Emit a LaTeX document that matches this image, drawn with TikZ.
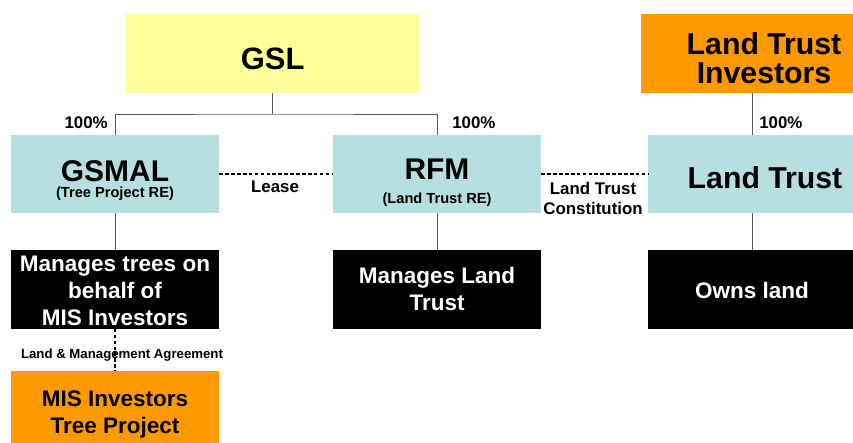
\documentclass[tikz,border=0pt]{standalone}
\usepackage{fontspec}
\setmainfont{Liberation Sans}
\definecolor{paleblue}{RGB}{183,222,225}
\definecolor{paleyellow}{RGB}{255,255,153}
\definecolor{deeporange}{RGB}{255,153,0}
\begin{document}
\begin{tikzpicture}[x=0.025cm,y=-0.025cm,
  box/.style={inner sep=0,minimum width=5.2cm,minimum height=1.95cm,align=center,text depth=0pt},
  bluebox/.style={box,fill=paleblue},
  blackbox/.style={box,fill=black,text=white,font=\bfseries\fontsize{16}{19.2}\selectfont},
  orangebox/.style={box,fill=deeporange},
  tag/.style={inner sep=0,font=\bfseries\fontsize{12}{14.2}\selectfont},
  link/.style={draw=black!65,line width=0.6pt},
  dashlink/.style={draw=black,line width=0.9pt,dash pattern=on 2.6pt off 1.6pt}]
\useasboundingbox (0,0) rectangle (853,442);
\node[box,fill=paleyellow,minimum width=7.33cm,font=\bfseries\fontsize{22}{24}\selectfont,
  text height=22.5pt] (gsl) at (272.7,53.5) {GSL};
\node[orangebox,minimum width=6.15cm,font=\bfseries\fontsize{21.5}{20.6}\selectfont,
  text height=42pt] (lti) at (764,53.5) {Land Trust\\Investors};
\node[bluebox,font=\bfseries\fontsize{21.3}{11.4}\selectfont,
  text height=33pt] (gsmal) at (115,174) {GSMAL\\\fontsize{10.4}{11.4}\selectfont (Tree Project RE)};
\node[bluebox,font=\bfseries\fontsize{21.3}{16.4}\selectfont,
  text height=41.3pt] (rfm) at (437,174) {RFM\\\fontsize{10.4}{16.4}\selectfont (Land Trust RE)};
\node[bluebox,minimum width=5.85cm,font=\bfseries\fontsize{21.5}{24}\selectfont,
  text height=20.3pt] (lt) at (765,174) {Land Trust};
\node[blackbox,text height=50.5pt] (mtrees) at (115,289.5) {Manages trees on\\behalf of\\MIS Investors};
\node[blackbox,text height=29.2pt] (mlt) at (437,289.5) {Manages Land\\Trust};
\node[blackbox,text height=12.5pt] (owns) at (752,289.5) {Owns land};
\node[orangebox,font=\bfseries\fontsize{16}{18.9}\selectfont,
  text height=32.7pt] (mis) at (115,410) {MIS Investors\\Tree Project};
% ownership lines
\coordinate (bus) at (272.7,114);
\draw[link] (gsl.south) -- (bus);
\draw[link] (gsmal.north) |- (bus) -| (rfm.north);
\draw[link] (lti.south -| owns.north) -- (lt.north -| owns.north);
\draw[link] (gsmal.south) -- (mtrees.north);
\draw[link] (rfm.south) -- (mlt.north);
\draw[link] (lt.south -| owns.north) -- (owns.north);
\node[tag,anchor=base east] (pct1) at (108,128) {100\%};
\node[tag,anchor=base west] (pct2) at (452,128) {100\%};
\node[tag,anchor=base west] (pct3) at (759,128) {100\%};
% agreements
\draw[dashlink] (gsmal.east) -- (rfm.west);
\draw[dashlink] (rfm.east) -- (lt.west);
\draw[dashlink] (mtrees.south) -- (mis.north);
\node[tag,anchor=base] (lease) at (275,192.7) {Lease};
\node[tag,align=center] (constitution) at (593,198) {Land Trust\\Constitution};
\node[tag,anchor=base,font=\bfseries\fontsize{9.4}{11}\selectfont] (agreement) at (122,358) {Land \& Management Agreement};
\end{tikzpicture}
\end{document}
